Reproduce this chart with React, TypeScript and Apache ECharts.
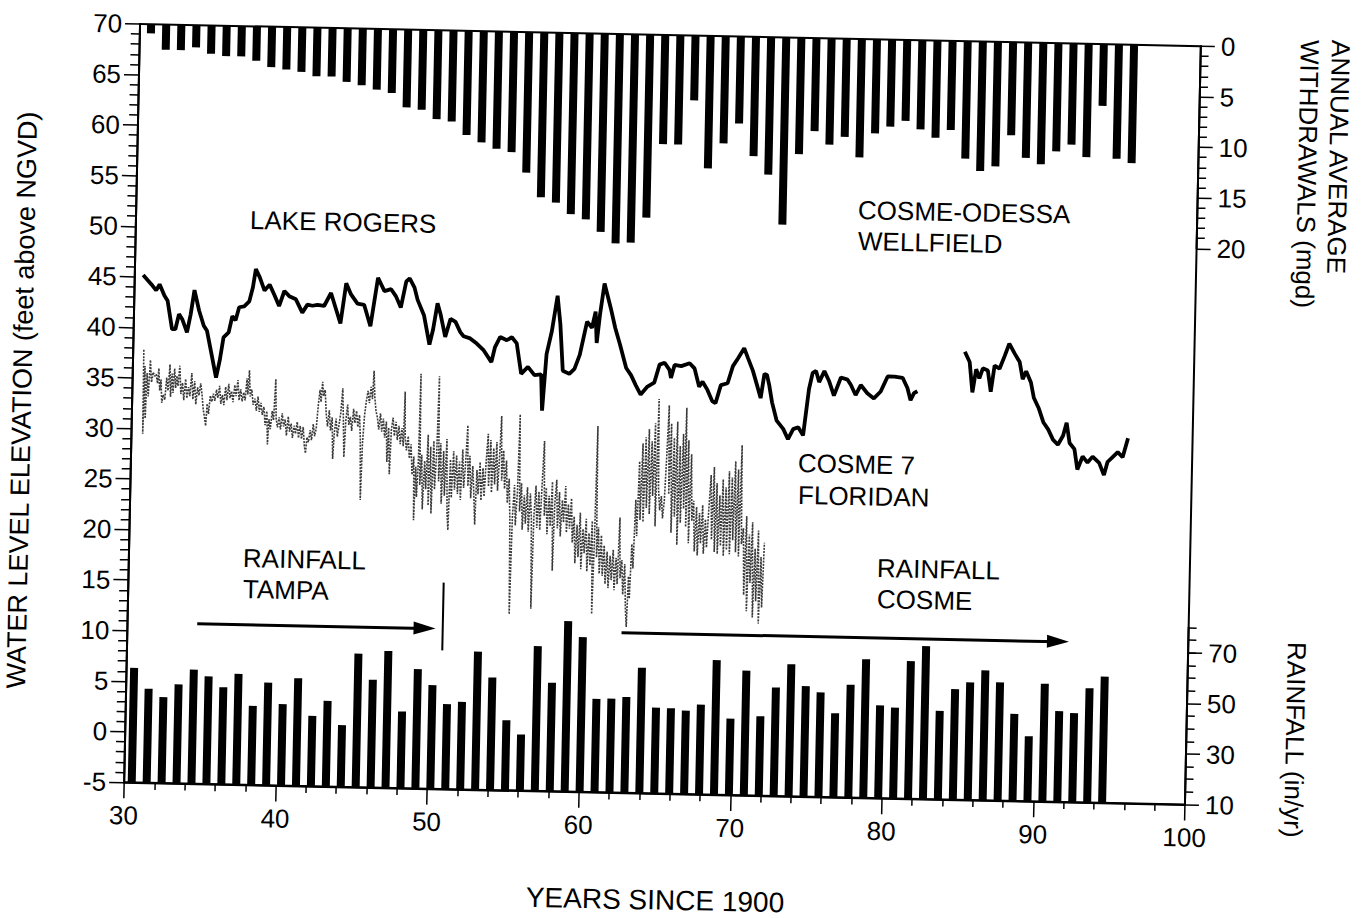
import React, { useEffect, useRef } from "react";
import * as echarts from "echarts";

// ---------- data ----------
// Years of the annual bars (1930 .. 1995)
const barYears: string[] = Array.from({ length: 66 }, (_, i) => String(1930 + i));

// Cosme-Odessa wellfield annual average withdrawals (mgd), 1930..1995
const withdrawals: number[] = [
  0.9, 2.5, 2.5, 2.2, 2.8, 3.0, 3.0, 3.4, 4.0, 4.2,
  4.4, 4.8, 4.8, 5.3, 5.6, 6.0, 6.3, 7.7, 7.9, 8.8,
  9.0, 10.3, 11.0, 11.6, 11.9, 13.9, 16.3, 16.8, 17.9, 18.4,
  19.6, 20.7, 20.6, 18.1, 10.8, 10.8, 6.4, 13.1, 10.6, 8.6,
  11.8, 13.6, 18.5, 11.5, 9.2, 10.5, 9.7, 11.7, 9.3, 8.6,
  8.0, 8.8, 9.6, 8.8, 11.6, 12.8, 12.3, 9.2, 11.4, 12.0,
  10.7, 10.0, 11.2, 6.1, 11.3, 11.7,
];

// Annual rainfall (in/yr), Tampa then Cosme, 1930..1995
const rainfall: number[] = [
  55.3, 47.2, 44.0, 49.2, 55.1, 52.6, 48.4, 53.8, 41.3, 50.6,
  42.2, 52.6, 37.8, 43.9, 34.4, 62.8, 52.6, 64.1, 40.3, 57.2,
  51.0, 43.6, 44.6, 64.6, 54.5, 37.7, 32.2, 67.3, 52.9, 77.4,
  71.2, 46.9, 47.1, 47.9, 59.6, 43.9, 43.8, 43.0, 45.5, 63.2,
  40.2, 59.3, 41.4, 52.9, 62.2, 53.7, 51.3, 43.2, 54.6, 64.8,
  46.7, 45.9, 64.4, 70.5, 45.0, 53.7, 56.5, 61.4, 56.8, 44.4,
  35.7, 56.6, 45.9, 45.2, 55.2, 59.9,
];

// Lake Rogers water level [years since 1900, ft NGVD]
const lakeRogersA: number[][] = [
  [30.55,45.2],[31.10,44.3],[31.43,43.7],[31.65,44.3],[31.98,43.2],[32.20,42.7],[32.53,39.9],[32.75,39.9],
  [32.97,41.4],[33.19,40.9],[33.52,39.6],[33.74,41.4],[33.96,43.8],[34.29,41.8],[34.62,40.3],[34.84,39.8],
  [35.17,37.5],[35.50,35.2],[35.72,36.9],[35.94,39.2],[36.27,39.7],[36.49,41.3],[36.71,40.9],[36.93,42.2],
  [37.26,42.3],[37.59,42.8],[37.81,44.2],[37.98,46.0],[38.25,45.2],[38.58,43.9],[38.91,44.5],[39.23,43.5],
  [39.56,42.4],[39.89,43.9],[40.22,43.4],[40.66,43.1],[41.10,41.8],[41.43,42.6],[41.76,42.5],[42.09,42.6],
  [42.53,42.5],[42.97,43.8],[43.30,42.3],[43.63,40.8],[43.96,44.8],[44.29,43.7],[44.73,42.8],[45.17,42.7],
  [45.61,40.6],[46.05,45.4],[46.49,44.1],[46.93,44.3],[47.26,43.6],[47.59,42.5],[47.92,45.1],[48.14,45.4],
  [48.47,44.5],[48.69,43.3],[49.13,41.8],[49.53,38.9],[49.75,40.4],[50.01,43.0],[50.23,41.9],[50.56,39.7],
  [50.89,41.5],[51.22,41.2],[51.55,40.2],[51.77,39.8],[52.21,39.6],[52.65,39.1],[53.09,38.5],[53.64,37.3],
  [53.86,38.8],[54.19,39.8],[54.63,39.5],[54.96,39.8],[55.29,39.2],[55.62,36.2],[56.06,36.9],[56.50,36.1],
  [56.94,36.2],[57.05,32.6],[57.27,38.2],[57.59,40.5],[57.92,44.0],[58.14,41.2],[58.36,36.6],[58.80,36.3],
  [59.13,36.8],[59.46,38.2],[59.90,41.5],[60.23,40.9],[60.45,42.5],[60.56,39.4],[60.74,42.2],[61.00,45.3],
  [61.44,42.9],[61.77,40.9],[62.10,39.3],[62.54,37.0],[62.87,36.3],[63.20,35.3],[63.53,34.4],[63.97,35.2],
  [64.41,35.6],[64.74,37.4],[65.07,37.6],[65.40,36.9],[65.51,36.1],[65.73,37.4],[66.17,37.3],[66.72,37.6],
  [67.05,37.1],[67.38,35.3],[67.60,35.8],[67.93,35.0],[68.26,33.9],[68.48,33.7],[68.81,35.5],[69.25,35.7],
  [69.58,37.4],[69.91,38.2],[70.30,39.2],[70.57,38.2],[70.90,37.0],[71.23,35.4],[71.45,34.3],[71.67,36.7],
  [71.84,36.6],[72.00,35.6],[72.21,33.9],[72.54,32.1],[72.98,31.3],[73.31,30.3],[73.64,31.3],[73.97,31.5],
  [74.30,30.7],[74.63,35.3],[74.85,36.9],[75.07,37.1],[75.29,36.0],[75.62,37.1],[75.95,36.1],[76.28,34.7],
  [76.72,36.5],[77.16,36.3],[77.38,35.8],[77.71,34.8],[78.04,35.8],[78.48,35.0],[78.92,34.5],[79.36,35.2],
  [79.80,36.7],[80.24,36.7],[80.79,36.6],[81.12,35.6],[81.34,34.4],[81.56,35.1],[81.78,35.3],
];
const lakeRogersB: number[][] = [
  [84.86,39.3],[85.19,38.3],[85.41,35.3],[85.63,37.6],[85.85,36.7],[86.07,37.7],[86.40,37.5],[86.62,35.4],
  [86.84,38.0],[87.17,37.7],[87.50,39.0],[87.78,40.2],[88.16,39.2],[88.49,38.4],[88.71,36.7],[88.93,37.5],
  [89.26,36.4],[89.47,34.9],[89.80,33.9],[90.13,32.5],[90.46,31.8],[90.79,30.8],[91.12,30.3],[91.45,31.2],
  [91.67,32.5],[91.89,30.5],[92.22,29.9],[92.44,27.9],[92.77,29.2],[93.10,28.6],[93.43,29.2],[93.87,28.6],
  [94.20,27.4],[94.42,28.7],[94.75,29.2],[95.08,29.7],[95.41,29.2],[95.74,31.1],
];

// Cosme 7 Floridan well level [years since 1900, ft NGVD]
const cosme7: number[][] = [
  [30.70,37.8],[30.74,29.5],[30.80,36.2],[30.88,31.0],[30.95,35.5],[31.05,33.2],[31.15,36.8],[31.25,34.6],
  [31.35,35.6],[31.45,35.2],[31.55,35.4],[31.65,34.5],[31.72,36.0],[31.80,33.8],[31.88,34.9],[31.95,32.6],
  [32.05,33.4],[32.15,32.9],[32.25,35.1],[32.35,33.8],[32.45,36.4],[32.52,33.2],[32.60,35.5],[32.68,33.6],
  [32.76,36.0],[32.85,34.1],[32.92,35.3],[33.00,34.3],[33.10,36.3],[33.20,33.5],[33.30,34.6],[33.40,32.9],
  [33.50,35.0],[33.60,33.1],[33.70,34.2],[33.80,33.3],[33.90,35.6],[34.00,33.0],[34.10,34.8],[34.20,32.5],
  [34.30,34.2],[34.40,33.4],[34.50,34.6],[34.60,33.5],[34.70,32.0],[34.80,31.2],[34.88,30.4],[34.95,32.6],
  [35.05,31.6],[35.15,33.4],[35.25,32.8],[35.35,33.6],[35.45,32.9],[35.55,34.0],[35.65,33.2],[35.75,34.4],
  [35.85,32.6],[35.95,33.5],[36.05,32.5],[36.15,34.3],[36.25,33.0],[36.35,34.6],[36.45,33.2],[36.55,33.9],
  [36.65,32.8],[36.75,34.5],[36.85,33.4],[36.95,35.0],[37.05,33.0],[37.15,34.1],[37.25,32.9],[37.35,33.8],
  [37.45,33.0],[37.55,35.2],[37.62,33.6],[37.70,36.0],[37.78,33.4],[37.88,34.1],[37.98,32.6],[38.10,33.2],
  [38.20,32.0],[38.30,33.4],[38.40,31.9],[38.50,32.8],[38.60,31.6],[38.70,32.4],[38.80,30.6],[38.90,32.0],
  [38.98,28.7],[39.05,31.2],[39.15,30.2],[39.25,32.0],[39.35,31.1],[39.45,35.2],[39.52,31.3],[39.62,30.4],
  [39.72,31.4],[39.82,30.2],[39.92,31.8],[40.02,30.5],[40.12,31.2],[40.22,29.6],[40.32,31.5],[40.42,30.0],
  [40.52,30.8],[40.62,29.4],[40.72,30.6],[40.82,29.8],[40.92,31.0],[41.02,29.4],[41.12,30.6],[41.22,29.3],
  [41.32,30.5],[41.42,28.6],[41.50,27.9],[41.58,29.5],[41.68,29.0],[41.78,30.2],[41.88,29.2],[41.98,30.8],
  [42.08,29.6],[42.18,30.4],[42.28,32.6],[42.38,34.2],[42.46,33.0],[42.54,35.0],[42.62,33.6],[42.72,34.2],
  [42.82,31.8],[42.92,30.6],[43.02,32.2],[43.12,30.2],[43.22,31.5],[43.30,27.4],[43.38,30.0],[43.48,31.4],
  [43.58,29.6],[43.68,30.8],[43.78,32.0],[43.88,34.4],[43.96,31.2],[44.04,27.6],[44.12,31.2],[44.22,32.8],
  [44.32,30.8],[44.42,31.6],[44.52,30.2],[44.62,32.4],[44.72,31.0],[44.82,32.2],[44.92,30.6],[45.02,31.8],
  [45.10,29.5],[45.18,23.4],[45.25,29.0],[45.35,31.8],[45.45,33.2],[45.55,34.2],[45.65,33.0],[45.75,34.6],
  [45.85,33.4],[45.92,36.2],[46.00,33.6],[46.10,32.2],[46.20,31.6],[46.30,30.4],[46.40,32.0],[46.50,30.2],
  [46.60,31.5],[46.70,29.6],[46.80,31.2],[46.88,27.2],[46.96,30.6],[47.06,26.0],[47.14,30.4],[47.24,31.6],
  [47.34,29.8],[47.44,31.2],[47.54,29.4],[47.64,30.8],[47.74,29.0],[47.84,30.6],[47.94,28.8],[48.00,34.2],
  [48.06,29.6],[48.16,28.4],[48.26,29.8],[48.36,27.6],[48.46,29.0],[48.56,26.0],[48.66,27.8],[48.72,21.5],
  [48.80,26.8],[48.88,23.8],[48.96,27.2],[49.02,36.0],[49.08,25.0],[49.18,28.0],[49.28,22.6],[49.38,27.4],
  [49.48,24.6],[49.58,30.0],[49.66,23.0],[49.76,28.8],[49.86,22.2],[49.96,29.4],[50.06,24.6],[50.16,28.2],
  [50.24,35.8],[50.32,25.4],[50.42,29.2],[50.52,23.2],[50.62,28.4],[50.72,24.0],[50.82,29.6],[50.92,22.4],
  [51.00,20.6],[51.08,27.6],[51.18,23.8],[51.28,28.4],[51.38,24.6],[51.48,28.0],[51.58,24.2],[51.68,27.4],
  [51.78,23.6],[51.88,28.6],[51.98,24.8],[52.08,27.2],[52.18,31.0],[52.26,25.0],[52.36,28.0],[52.46,23.8],
  [52.56,27.0],[52.66,24.4],[52.76,21.2],[52.84,26.6],[52.94,24.2],[53.04,27.4],[53.14,23.6],[53.24,26.8],
  [53.34,24.0],[53.44,27.6],[53.54,30.2],[53.62,25.0],[53.72,29.6],[53.82,24.4],[53.92,28.8],[54.02,25.2],
  [54.12,29.4],[54.22,24.6],[54.32,28.2],[54.40,32.0],[54.48,25.6],[54.58,28.6],[54.68,24.8],[54.78,27.6],
  [54.88,23.4],[54.98,25.8],[55.08,21.6],[55.16,12.4],[55.24,22.0],[55.34,25.2],[55.44,21.2],[55.54,24.6],
  [55.62,32.2],[55.70,22.6],[55.80,25.4],[55.90,20.8],[56.00,24.2],[56.10,21.4],[56.20,25.0],[56.30,20.6],
  [56.40,24.4],[56.50,21.8],[56.58,13.0],[56.66,22.2],[56.76,25.2],[56.86,21.0],[56.96,24.6],[57.06,20.8],
  [57.16,25.4],[57.26,29.6],[57.34,22.2],[57.44,25.0],[57.54,20.4],[57.64,24.2],[57.74,21.2],[57.84,25.6],
  [57.94,16.8],[58.02,23.4],[58.12,25.8],[58.22,21.0],[58.32,24.6],[58.42,20.2],[58.52,23.8],[58.62,21.6],
  [58.72,25.2],[58.82,20.6],[58.92,23.4],[59.02,21.0],[59.12,24.0],[59.22,19.6],[59.32,22.2],[59.42,17.6],
  [59.52,21.4],[59.62,18.2],[59.72,22.6],[59.82,17.0],[59.92,21.0],[60.02,18.6],[60.12,22.0],[60.22,16.8],
  [60.32,20.6],[60.42,17.4],[60.52,21.8],[60.60,12.6],[60.68,19.6],[60.76,31.2],[60.84,18.2],[60.94,21.2],
  [61.04,16.6],[61.14,20.4],[61.24,16.4],[61.34,19.4],[61.44,15.6],[61.54,18.8],[61.64,15.2],[61.74,18.4],
  [61.84,16.0],[61.94,19.0],[62.04,15.0],[62.14,18.2],[62.24,15.6],[62.34,22.2],[62.42,16.2],[62.52,18.0],
  [62.62,14.6],[62.72,17.6],[62.82,13.2],[62.90,11.4],[62.98,16.4],[63.06,14.2],[63.16,19.6],[63.26,17.2],
  [63.36,24.0],[63.46,20.4],[63.56,27.8],[63.66,22.0],[63.76,29.6],[63.86,21.8],[63.96,30.2],[64.06,23.2],
  [64.16,31.0],[64.26,22.6],[64.36,29.8],[64.46,24.4],[64.56,31.6],[64.66,21.4],[64.76,34.0],[64.84,25.2],
  [64.94,23.0],[65.04,24.4],[65.14,22.2],[65.24,24.0],[65.34,28.4],[65.44,33.4],[65.52,24.6],[65.62,31.6],
  [65.72,20.8],[65.82,30.2],[65.92,22.4],[66.02,31.8],[66.12,19.6],[66.22,29.4],[66.32,21.8],[66.42,30.6],
  [66.52,23.2],[66.60,33.2],[66.68,21.4],[66.78,30.0],[66.88,19.8],[66.98,28.6],[67.08,22.0],[67.18,24.0],
  [67.28,19.0],[67.38,23.4],[67.48,18.6],[67.58,22.8],[67.68,19.8],[67.78,23.6],[67.88,18.8],[67.98,22.2],
  [68.08,19.4],[68.18,23.0],[68.30,26.6],[68.40,20.2],[68.50,27.4],[68.60,19.0],[68.70,25.8],[68.80,18.8],
  [68.90,24.6],[69.00,19.6],[69.10,26.2],[69.20,18.6],[69.30,25.4],[69.40,19.2],[69.50,27.0],[69.60,18.8],
  [69.70,26.4],[69.80,20.2],[69.90,28.0],[70.00,19.0],[70.10,27.2],[70.20,18.6],[70.30,29.6],[70.38,19.8],
  [70.50,21.4],[70.60,14.8],[70.70,22.6],[70.80,13.2],[70.90,20.8],[71.00,16.0],[71.10,22.0],[71.20,12.6],
  [71.30,19.4],[71.40,14.2],[71.50,21.2],[71.60,12.0],[71.70,18.6],[71.80,13.6],[71.90,20.0],
];

// Arrows (rainfall record spans) and the divider between the two rain gauges
const tampaArrow: number[][] = [[34.6, 10.85], [49.6, 10.85]];
const cosmeArrow: number[][] = [[62.6, 10.85], [91.4, 10.85]];
const gaugeDivider: number[][] = [[50.8, 8.7], [50.8, 15.4]];

// Axis ranges / tick labels
const xRange = { min: 30, max: 100, step: 10 };
const levelRange = { min: -5, max: 70, step: 5 };
const withdrawalTicks = { min: 0, max: 20, step: 5 };
const rainTicks = { min: 10, max: 70, step: 20 };

// ---------- layout ----------
const FONT = '"Liberation Sans", Arial, Helvetica, sans-serif';
const PLOT = { left: 132, top: 35, width: 1061, height: 758.5 };
const ROT_DEG = 1.2;
const CX = 663;
const CY = 414;
const ROT = (ROT_DEG * Math.PI) / 180;
// convert a position measured on the (tilted) reference into the chart's own frame
function unrot(x: number, y: number): [number, number] {
  const rx = x - CX;
  const ry = y - CY;
  return [CX + rx * Math.cos(ROT) + ry * Math.sin(ROT), CY - rx * Math.sin(ROT) + ry * Math.cos(ROT)];
}

function label(text: string, refX: number, refY: number, size: number, align = "left", rotation = 0) {
  const [x, y] = unrot(refX, refY);
  return {
    type: "text",
    x,
    y,
    rotation,
    silent: true,
    style: {
      text,
      fill: "#000",
      font: `${size}px ${FONT}`,
      textAlign: align,
      textVerticalAlign: "middle",
    },
  };
}

function buildOption(): any {
  const pxPerUnit = PLOT.height / (levelRange.max - levelRange.min);
  const rightX = PLOT.left + PLOT.width;
  const bottomY = PLOT.top + PLOT.height;
  const rainPx = pxPerUnit / 4; // 4 in/yr per ft on the plot
  const tickFont = { fontSize: 26, color: "#000", fontFamily: FONT };
  const blackLine = { color: "#000", width: 2 };
  const tickLine = { color: "#000", width: 1.5 };

  return {
    animation: false,
    backgroundColor: "#fff",
    grid: [
      { ...PLOT, show: true, borderColor: "#000", borderWidth: 2, backgroundColor: "transparent" },
      { left: 135.5, top: PLOT.top, width: 998.3, height: PLOT.height },
      { left: 132.1, top: PLOT.top, width: 985.5, height: PLOT.height },
      { left: rightX - 100, top: PLOT.top, width: 100, height: 20 * pxPerUnit },
      { left: rightX - 100, top: bottomY - 60 * rainPx, width: 100, height: 60 * rainPx },
      { left: rightX - 100, top: bottomY - 70 * rainPx, width: 100, height: 10 * rainPx },
    ],
    xAxis: [
      {
        gridIndex: 0,
        type: "value",
        position: "bottom",
        min: xRange.min,
        max: xRange.max,
        interval: xRange.step,
        axisLine: { show: true, onZero: false, lineStyle: blackLine },
        axisTick: { show: true, length: 16, lineStyle: tickLine },
        minorTick: { show: true, splitNumber: 5, length: 7, lineStyle: tickLine },
        axisLabel: { ...tickFont, margin: 20 },
        splitLine: { show: false },
      },
      { gridIndex: 1, type: "category", data: barYears, show: false },
      { gridIndex: 2, type: "category", data: barYears, show: false },
      { gridIndex: 3, type: "value", min: 0, max: 1, show: false },
      { gridIndex: 4, type: "value", min: 0, max: 1, show: false },
      { gridIndex: 5, type: "value", min: 0, max: 1, show: false },
    ],
    yAxis: [
      {
        gridIndex: 0,
        type: "value",
        position: "left",
        min: levelRange.min,
        max: levelRange.max,
        interval: levelRange.step,
        axisLine: { show: true, onZero: false, lineStyle: blackLine },
        axisTick: { show: true, length: 15, lineStyle: tickLine },
        minorTick: { show: true, splitNumber: 5, length: 9, lineStyle: tickLine },
        axisLabel: { ...tickFont, margin: 18 },
        splitLine: { show: false },
      },
      { gridIndex: 1, type: "value", inverse: true, min: 0, max: 75, show: false },
      { gridIndex: 2, type: "value", min: 10, max: 310, show: false },
      {
        gridIndex: 3,
        type: "value",
        position: "right",
        inverse: true,
        min: withdrawalTicks.min,
        max: withdrawalTicks.max,
        interval: withdrawalTicks.step,
        axisLine: { show: true, onZero: false, lineStyle: blackLine },
        axisTick: { show: true, length: 14, lineStyle: tickLine },
        minorTick: { show: true, splitNumber: 5, length: 8, lineStyle: tickLine },
        axisLabel: { ...tickFont, margin: 20 },
        splitLine: { show: false },
      },
      {
        gridIndex: 4,
        type: "value",
        position: "right",
        min: rainTicks.min,
        max: rainTicks.max,
        interval: rainTicks.step,
        axisLine: { show: true, onZero: false, lineStyle: blackLine },
        axisTick: { show: true, length: 14, lineStyle: tickLine },
        minorTick: { show: true, splitNumber: 4, length: 8, lineStyle: tickLine },
        axisLabel: { ...tickFont, margin: 20 },
        splitLine: { show: false },
      },
      {
        gridIndex: 5,
        type: "value",
        position: "right",
        min: 70,
        max: 80,
        interval: 5,
        axisLine: { show: true, onZero: false, lineStyle: blackLine },
        axisTick: { show: true, length: 8, lineStyle: tickLine },
        axisLabel: { show: false },
        splitLine: { show: false },
      },
    ],
    series: [
      {
        name: "Withdrawals",
        type: "bar",
        xAxisIndex: 1,
        yAxisIndex: 1,
        data: withdrawals,
        barWidth: 8,
        itemStyle: { color: "#000" },
        silent: true,
        z: 2,
      },
      {
        name: "Rainfall",
        type: "bar",
        xAxisIndex: 2,
        yAxisIndex: 2,
        data: rainfall,
        barWidth: 8,
        clip: true,
        itemStyle: { color: "#000" },
        silent: true,
        z: 2,
      },
      {
        name: "Cosme 7 Floridan",
        type: "line",
        xAxisIndex: 0,
        yAxisIndex: 0,
        data: cosme7,
        symbol: "none",
        lineStyle: { color: "#3a3a3a", width: 1.6, type: [2, 1.2] },
        silent: true,
        z: 3,
      },
      {
        name: "Lake Rogers",
        type: "line",
        xAxisIndex: 0,
        yAxisIndex: 0,
        data: lakeRogersA,
        symbol: "none",
        lineStyle: { color: "#000", width: 3.8 },
        silent: true,
        z: 4,
      },
      {
        name: "Lake Rogers (cont.)",
        type: "line",
        xAxisIndex: 0,
        yAxisIndex: 0,
        data: lakeRogersB,
        symbol: "none",
        lineStyle: { color: "#000", width: 3.8 },
        silent: true,
        z: 4,
      },
      {
        name: "Gauge divider",
        type: "line",
        xAxisIndex: 0,
        yAxisIndex: 0,
        data: gaugeDivider,
        symbol: "none",
        lineStyle: { color: "#000", width: 2 },
        silent: true,
        z: 4,
      },
      {
        name: "Arrows",
        type: "line",
        xAxisIndex: 0,
        yAxisIndex: 0,
        data: [],
        silent: true,
        z: 4,
        markLine: {
          silent: true,
          symbol: ["none", "triangle"],
          symbolSize: [13, 22],
          label: { show: false },
          lineStyle: { color: "#000", width: 3, type: "solid" },
          data: [
            [{ coord: tampaArrow[0] }, { coord: tampaArrow[1] }],
            [{ coord: cosmeArrow[0] }, { coord: cosmeArrow[1] }],
          ],
        },
      },
    ],
    graphic: [
      label("LAKE ROGERS", 250, 220, 26),
      label("COSME-ODESSA", 858, 210, 26),
      label("WELLFIELD", 858, 241, 26),
      label("COSME 7", 798, 463, 26),
      label("FLORIDAN", 798, 495, 26),
      label("RAINFALL", 243, 558, 26),
      label("TAMPA", 243, 589, 26),
      label("RAINFALL", 877, 568, 26),
      label("COSME", 877, 599, 26),
      label("YEARS SINCE 1900", 655, 900, 28, "center"),
      label("WATER LEVEL ELEVATION (feet above NGVD)", 22, 400, 27, "center", Math.PI / 2),
      label("ANNUAL AVERAGE", 1341, 40, 26, "left", -Math.PI / 2),
      label("WITHDRAWALS (mgd)", 1310, 40, 26, "left", -Math.PI / 2),
      label("RAINFALL (in/yr)", 1297, 642, 26, "left", -Math.PI / 2),
    ],
  };
}

export default function App() {
  const ref = useRef<HTMLDivElement>(null);
  useEffect(() => {
    if (!ref.current) return;
    const chart = echarts.init(ref.current, null, { renderer: "svg" });
    chart.setOption(buildOption());
    return () => chart.dispose();
  }, []);
  return (
    <div
      ref={ref}
      style={{
        position: "absolute",
        left: 0,
        top: 0,
        width: 1370,
        height: 918,
        transform: `rotate(${ROT_DEG}deg)`,
        transformOrigin: `${CX}px ${CY}px`,
        background: "#fff",
      }}
    />
  );
}
